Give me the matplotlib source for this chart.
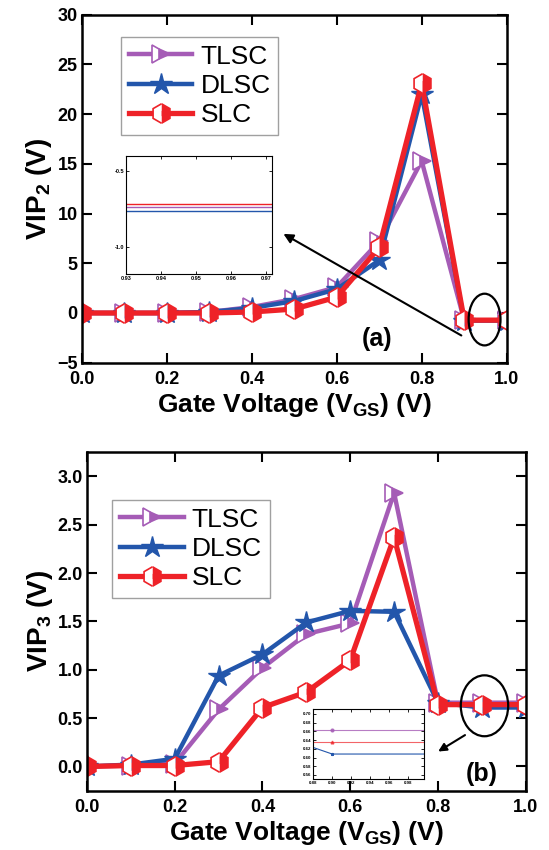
import matplotlib
matplotlib.use("Agg")
import matplotlib.pyplot as plt
from matplotlib.patches import Ellipse

plt.rcParams["font.family"] = ["Liberation Sans", "DejaVu Sans"]
plt.rcParams["mathtext.fontset"] = "custom"
plt.rcParams["mathtext.rm"] = "Liberation Sans:bold"
plt.rcParams["mathtext.bf"] = "Liberation Sans:bold"

# data
vgs = [0.0, 0.1, 0.2, 0.3, 0.4, 0.5, 0.6, 0.7, 0.8, 0.9, 1.0]
labels = ["TLSC", "DLSC", "SLC"]

vip2_tlsc = [0.0, 0.0, 0.0, 0.1, 0.6, 1.4, 2.6, 7.2, 15.3, -0.74, -0.74]
vip2_dlsc = [0.0, 0.0, 0.0, 0.1, 0.5, 1.2, 2.4, 5.3, 22.0, -0.76, -0.76]
vip2_slc = [0.0, 0.0, 0.0, 0.0, 0.1, 0.4, 1.6, 6.6, 23.1, -0.72, -0.72]

vip3_tlsc = [0.0, 0.01, 0.03, 0.59, 1.02, 1.37, 1.48, 2.83, 0.66, 0.66, 0.66]
vip3_dlsc = [0.0, 0.02, 0.08, 0.94, 1.16, 1.49, 1.61, 1.60, 0.66, 0.61, 0.61]
vip3_slc = [0.0, 0.01, 0.01, 0.05, 0.61, 0.77, 1.10, 2.37, 0.64, 0.64, 0.64]

# zoomed insets
inset_a_x = [0.93, 0.9716]
inset_a_tlsc = [-0.739, -0.739]
inset_a_dlsc = [-0.763, -0.763]
inset_a_slc = [-0.717, -0.717]

inset_b_x = [0.88, 0.90, 0.997]
inset_b_tlsc = [0.663, 0.663, 0.663]
inset_b_dlsc = [0.623, 0.608, 0.608]
inset_b_slc = [0.635, 0.635, 0.635]

purple = "#a55cb6"
blue = "#2356ab"
red = "#ee2228"

styles = [
    dict(color=purple, marker=">", lw=3.2, ms=13, fillstyle="right",
         markerfacecoloralt="white", mew=1.2),
    dict(color=blue, marker="*", lw=3.2, ms=16, mew=1.0),
    dict(color=red, marker="h", lw=3.8, ms=14, fillstyle="right",
         markerfacecoloralt="white", mew=1.2),
]

fig = plt.figure(figsize=(5.49, 8.5), dpi=100)


def style_axes(ax, xt, yt, ylim, ylabel):
    ax.set_xlim(0, 1.0)
    ax.set_ylim(*ylim)
    ax.set_xticks(xt)
    ax.set_yticks(yt)
    ax.tick_params(direction="in", length=7, width=1.5, top=True, right=True,
                   labelsize=13, pad=3)
    ax.tick_params(axis="x", pad=6)
    for s in ax.spines.values():
        s.set_linewidth(1.8)
    ax.set_xlabel(r"Gate Voltage (V$_{\mathbf{GS}}$) (V)", fontsize=19,
                  fontweight="bold", labelpad=2)
    ax.set_ylabel(ylabel, fontsize=20, fontweight="bold", labelpad=2)


def inset_style(ax):
    ax.tick_params(direction="in", length=2, width=0.6, top=True, right=True,
                   labelsize=4, pad=1.5)
    for lab in ax.get_xticklabels() + ax.get_yticklabels():
        lab.set_fontweight("bold")
    for s in ax.spines.values():
        s.set_linewidth(0.8)


# ---- panel (a)
ax1 = fig.add_axes([0.1488, 0.5733, 0.7741, 0.4093])
for ys, lab, st in zip([vip2_tlsc, vip2_dlsc, vip2_slc], labels, styles):
    ax1.plot(vgs, ys, label=lab, **st)
style_axes(ax1, [0, 0.2, 0.4, 0.6, 0.8, 1.0], [-5, 0, 5, 10, 15, 20, 25, 30],
           (-5, 30), r"VIP$_\mathbf{2}$ (V)")
ax1.set_xticklabels(["0.0", "0.2", "0.4", "0.6", "0.8", "1.0"])
for lab in ax1.get_xticklabels() + ax1.get_yticklabels():
    lab.set_fontweight("bold")
leg1 = ax1.legend(loc="upper left", bbox_to_anchor=(0.093, 0.937), fontsize=19,
                  frameon=True, fancybox=False, edgecolor="#888888",
                  handlelength=2.4, handletextpad=0.3, borderpad=0.3,
                  labelspacing=0.2, borderaxespad=0)
leg1.get_frame().set_linewidth(1.0)
ax1.add_patch(Ellipse((0.948, -0.66), 0.075, 5.2, fill=False, lw=1.6,
                      color="black", zorder=5))
ax1.annotate("", xy=(0.469, 8.1), xytext=(0.899, -2.4),
             arrowprops=dict(arrowstyle="-|>", color="black", lw=1.5,
                             mutation_scale=14))
ax1.text(0.694, -2.6, "(a)", fontsize=18, fontweight="bold",
         ha="center", va="center")

ins1 = fig.add_axes([0.2295, 0.6776, 0.266, 0.1388])
for ys, c in zip([inset_a_tlsc, inset_a_dlsc, inset_a_slc], [purple, blue, red]):
    ins1.plot(inset_a_x, ys, color=c, lw=1.0)
ins1.set_xlim(0.93, 0.9716)
ins1.set_ylim(-1.174, -0.404)
ins1.set_xticks([0.93, 0.94, 0.95, 0.96, 0.97])
ins1.set_yticks([-1.0, -0.5])
ins1.set_yticklabels(["-1.0", "-0.5"])
inset_style(ins1)

# ---- panel (b)
ax2 = fig.add_axes([0.1585, 0.0698, 0.7991, 0.3981])
for ys, lab, st in zip([vip3_tlsc, vip3_dlsc, vip3_slc], labels, styles):
    ax2.plot(vgs, ys, label=lab, **st)
style_axes(ax2, [0, 0.2, 0.4, 0.6, 0.8, 1.0], [0, 0.5, 1.0, 1.5, 2.0, 2.5, 3.0],
           (-0.25, 3.25), r"VIP$_\mathbf{3}$ (V)")
ax2.set_xticklabels(["0.0", "0.2", "0.4", "0.6", "0.8", "1.0"])
ax2.set_yticklabels(["0.0", "0.5", "1.0", "1.5", "2.0", "2.5", "3.0"])
for lab in ax2.get_xticklabels() + ax2.get_yticklabels():
    lab.set_fontweight("bold")
leg2 = ax2.legend(loc="upper left", bbox_to_anchor=(0.058, 0.86), fontsize=19,
                  frameon=True, fancybox=False, edgecolor="#888888",
                  handlelength=2.4, handletextpad=0.3, borderpad=0.3,
                  labelspacing=0.2, borderaxespad=0)
leg2.get_frame().set_linewidth(1.0)
ax2.add_patch(Ellipse((0.906, 0.628), 0.108, 0.63, fill=False, lw=1.6,
                      color="black", zorder=5))
ax2.annotate("", xy=(0.795, 0.14), xytext=(0.867, 0.34),
             arrowprops=dict(arrowstyle="-|>", color="black", lw=1.5,
                             mutation_scale=12))
ax2.text(0.899, -0.075, "(b)", fontsize=18, fontweight="bold",
         ha="center", va="center")

ins2 = fig.add_axes([0.5707, 0.0832, 0.2016, 0.0827])
ins2.plot(inset_b_x, inset_b_tlsc, color=purple, lw=0.8, alpha=0.8,
          marker="o", ms=2, markevery=[1])
ins2.plot(inset_b_x, inset_b_slc, color=red, lw=0.8, alpha=0.7,
          marker="^", ms=2, markevery=[1])
ins2.plot(inset_b_x, inset_b_dlsc, color=blue, lw=0.8,
          marker="*", ms=2, markevery=[1])
ins2.set_xlim(0.88, 0.997)
ins2.set_ylim(0.55, 0.7115)
ins2.set_xticks([0.88, 0.90, 0.92, 0.94, 0.96, 0.98])
ins2.set_yticks([0.56, 0.58, 0.60, 0.62, 0.64, 0.66, 0.68, 0.70])
ins2.set_yticklabels(["0.56", "0.58", "0.60", "0.62", "0.64", "0.66", "0.68", "0.70"])
inset_style(ins2)
ins2.tick_params(labelsize=3.2)

fig.savefig("out.png", dpi=100)
